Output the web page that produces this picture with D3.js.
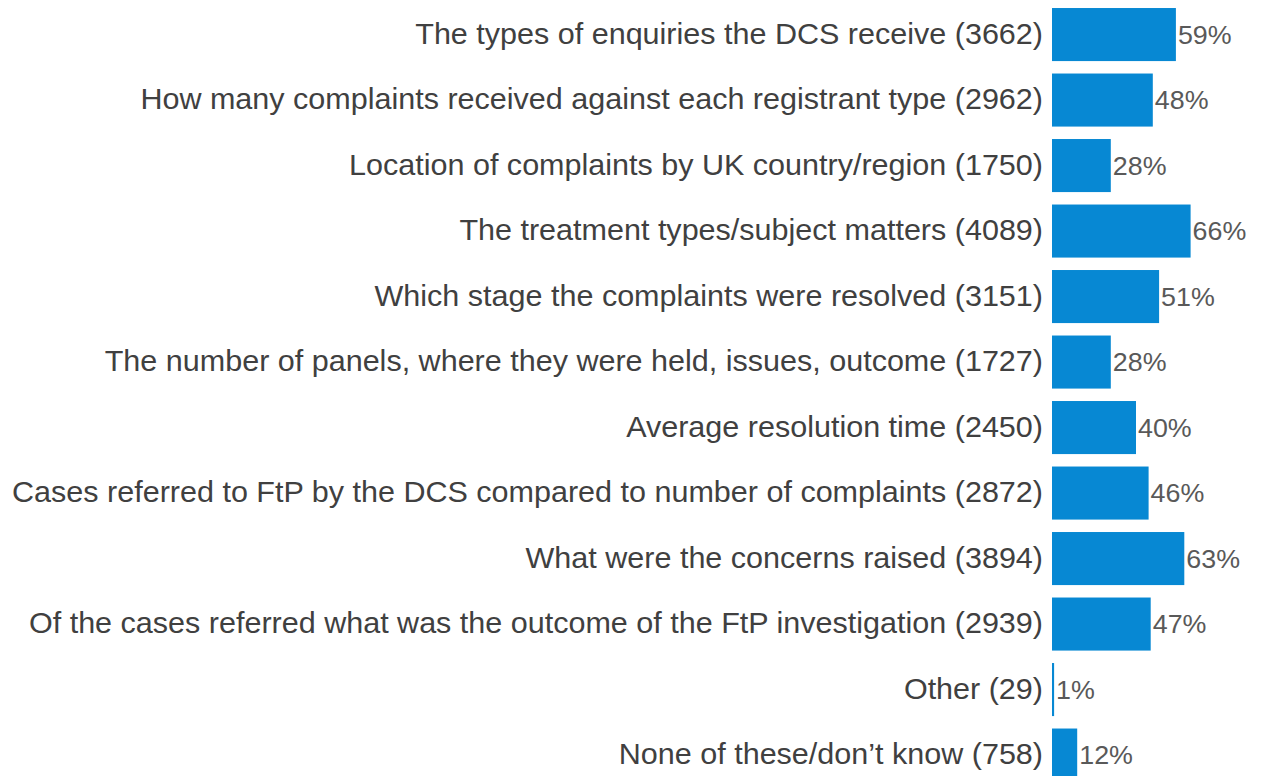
<!DOCTYPE html>
<html>
<head>
<meta charset="utf-8">
<script src="https://cdn.jsdelivr.net/npm/d3@7/dist/d3.min.js"></script>
<style>
  html, body { margin: 0; padding: 0; background: #ffffff; }
  svg { display: block; }
</style>
</head>
<body>
<script>
// Survey: which DCS statistics respondents would like to see (respondent counts in brackets)
const categories = [
  "The types of enquiries the DCS receive (3662)",
  "How many complaints received against each registrant type (2962)",
  "Location of complaints by UK country/region (1750)",
  "The treatment types/subject matters (4089)",
  "Which stage the complaints were resolved (3151)",
  "The number of panels, where they were held, issues, outcome (1727)",
  "Average resolution time (2450)",
  "Cases referred to FtP by the DCS compared to number of complaints (2872)",
  "What were the concerns raised (3894)",
  "Of the cases referred what was the outcome of the FtP investigation (2939)",
  "Other (29)",
  "None of these/don\u2019t know (758)"
];
const percents = [59, 48, 28, 66, 51, 28, 40, 46, 63, 47, 1, 12];

const width = 1261, height = 776;
const barColor = "#0788d3";
const fontFamily = "Arial, 'Liberation Sans', Helvetica, sans-serif";
const stretch = 1.053; // slightly widened glyphs

const svg = d3.select("body").append("svg")
  .attr("width", width)
  .attr("height", height);

const rows = categories.map((c, i) => ({ label: c, value: percents[i] }));

const x = d3.scaleLinear().domain([0, 100]).range([1052, 1262]);
const y = d3.scaleBand()
  .domain(categories)
  .range([1.8, 1.8 + 65.5 * categories.length])
  .paddingInner(0.19)
  .paddingOuter(0.095);

const g = svg.append("g");

// bars
g.selectAll("rect.bar")
  .data(rows)
  .join("rect")
  .attr("class", "bar")
  .attr("x", x(0))
  .attr("y", d => y(d.label))
  .attr("width", d => x(d.value) - x(0))
  .attr("height", y.bandwidth())
  .attr("fill", barColor);

// category labels, right-aligned against the bars
g.selectAll("text.cat")
  .data(rows)
  .join("text")
  .attr("class", "cat")
  .attr("transform", d => `translate(${x(0) - 9},${y(d.label) + y.bandwidth() / 2 + 9.3}) scale(${stretch},1)`)
  .attr("text-anchor", "end")
  .attr("font-family", fontFamily)
  .attr("font-size", 29)
  .attr("fill", "#404040")
  .text(d => d.label);

// value labels at the bar ends
g.selectAll("text.val")
  .data(rows)
  .join("text")
  .attr("class", "val")
  .attr("transform", d => `translate(${x(d.value) + 2},${y(d.label) + y.bandwidth() / 2 + 9}) scale(${stretch},1)`)
  .attr("font-family", fontFamily)
  .attr("font-size", 25.5)
  .attr("fill", "#595959")
  .text(d => d.value + "%");
</script>
</body>
</html>
